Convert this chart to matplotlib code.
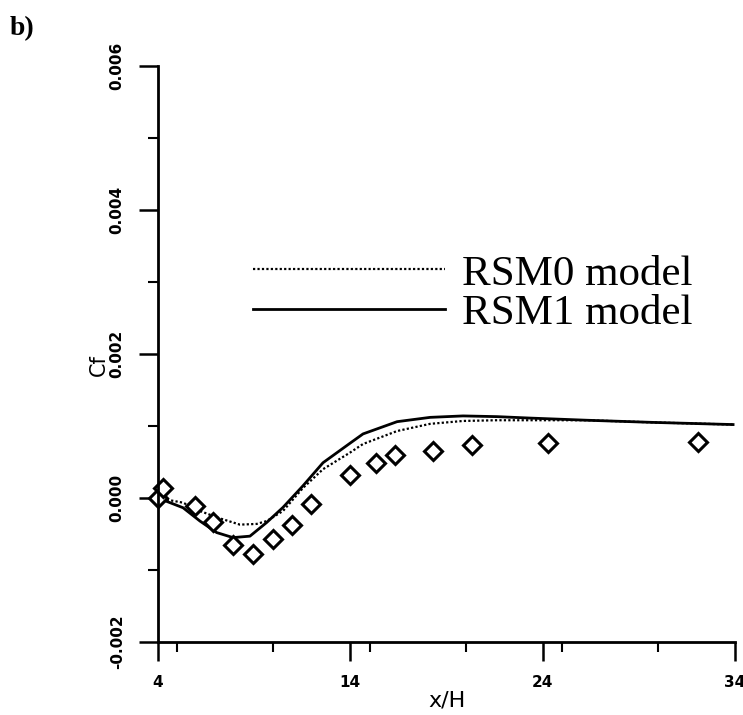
import numpy as np
import matplotlib
matplotlib.use("Agg")
import matplotlib.pyplot as plt
from matplotlib.ticker import MultipleLocator

# measured data (diamonds)
x_meas = [4.0, 4.28, 5.9, 6.84, 7.88, 8.92, 9.96, 10.95, 11.94, 14.0, 15.34, 16.32, 18.32, 20.3, 24.3, 32.1]
cf_meas = [0.0, 0.00014, -0.00011, -0.00033, -0.00065, -0.00078, -0.00057, -0.00038, -0.00009,
           0.00032, 0.00048, 0.0006, 0.00065, 0.00073, 0.00077, 0.00078]

# RSM0 model (dotted)
x_rsm0 = [4.0, 5.3, 6.18, 7.07, 8.26, 9.13, 9.65, 10.5, 11.54, 12.58, 13.98, 14.66, 16.43,
          18.15, 19.86, 21.63, 23.35, 26.3, 29.74, 33.9]
cf_rsm0 = [0.0, -0.000065, -0.00018, -0.00027, -0.00037, -0.00036, -0.00032, -0.00018, 0.00014,
           0.0004, 0.00063, 0.00075, 0.00093, 0.00103, 0.00107, 0.00108, 0.00108, 0.00108,
           0.00105, 0.00102]

# RSM1 model (solid)
x_rsm1 = [4.0, 5.3, 6.18, 7.05, 7.9, 8.78, 9.65, 10.5, 11.54, 12.58, 13.98, 14.66, 16.43,
          18.15, 19.86, 21.63, 23.35, 26.3, 29.74, 33.9]
cf_rsm1 = [0.0, -0.000135, -0.00032, -0.00048, -0.00055, -0.00053, -0.00034, -0.00013, 0.00017,
           0.00049, 0.00076, 0.00089, 0.00106, 0.00112, 0.00114, 0.00113, 0.00111, 0.00108,
           0.00105, 0.00102]

xticks = [4, 14, 24, 34]
yticks = [-0.002, 0.0, 0.002, 0.004, 0.006]
ylabels = ["-0.002", "0.000", "0.002", "0.004", "0.006"]

fig = plt.figure(figsize=(7.43, 7.15), dpi=100)
ax = fig.add_axes([158/743, 1 - 642/715, (735-158)/743, (642-66)/715])

ax.plot(x_rsm0, cf_rsm0, color="k", lw=1.6, linestyle=(0, (1, 1)), label="RSM0 model")
ax.plot(x_rsm1, cf_rsm1, color="k", lw=2.0, label="RSM1 model")
ax.plot(x_meas, cf_meas, linestyle="none", marker="D", markersize=9.5, mfc="white",
        mec="k", mew=2.2, clip_on=False)

ax.set_xlim(4, 34)
ax.set_ylim(-0.002, 0.006)
ax.spines["top"].set_visible(False)
ax.spines["right"].set_visible(False)
ax.spines["left"].set_linewidth(2)
ax.spines["bottom"].set_linewidth(2)

ax.set_xticks(xticks)
ax.set_xticklabels([str(t) for t in xticks], fontweight="bold", fontsize=11)
ax.xaxis.set_minor_locator(MultipleLocator(5))
ax.set_yticks(yticks)
ax.set_yticklabels(ylabels, rotation=90, va="center", fontweight="bold", fontsize=11)
ax.yaxis.set_minor_locator(MultipleLocator(0.001))
ax.tick_params(which="major", direction="out", length=14, width=1.8, pad=10)
ax.tick_params(which="minor", direction="out", length=7, width=1.5)

ax.set_xlabel("x/H", fontsize=16, labelpad=0)
ax.text(-0.102, 0.48, "Cf", transform=ax.transAxes, rotation=90, fontsize=15,
        ha="center", va="center")

leg = ax.legend(loc="center left", bbox_to_anchor=(0.165, 0.605), frameon=False,
                prop={"family": "Liberation Serif", "size": 31}, handlelength=4.45,
                handletextpad=0.4, labelspacing=0.0, borderpad=0, borderaxespad=0)

fig.text(0.013, 0.978, "b)", fontsize=20, fontweight="bold", family="Liberation Serif",
         va="top", ha="left")

fig.savefig("out.png", dpi=100)
